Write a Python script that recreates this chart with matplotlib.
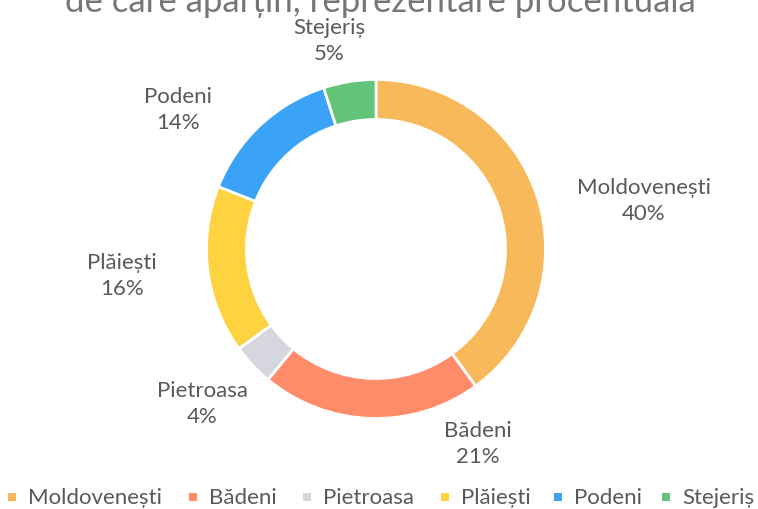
import matplotlib.pyplot as plt
from matplotlib.patches import Rectangle

# --- data ---
categories = ['Moldovenești', 'Bădeni', 'Pietroasa', 'Plăiești', 'Podeni', 'Stejeriș']
percents = [40, 21, 4, 16, 14, 5]
colors = ['#F7B95A', '#FF8B68', '#D5D6DE', '#FFD23F', '#3BA3F7', '#62C37A']
title = 'de care aparțin, reprezentare procentuală'

# label block centres in pixels (x, y from top) -- layout only
label_pos = [(644, 201), (478, 444), (202, 404), (122, 276), (178, 110), (329, 41)]
legend_x = [12, 193, 307, 445, 558, 666]

W, H = 758, 510
TEXT = '#595959'
plt.rcParams['font.family'] = ['Lato', 'DejaVu Sans']

fig = plt.figure(figsize=(W / 100, H / 100), dpi=100)
ax = fig.add_axes([0, 0, 1, 1])

ax.pie(percents, colors=colors, startangle=90, counterclock=False,
       center=(376, H - 250), radius=169.5,
       wedgeprops=dict(width=40, edgecolor='white', linewidth=2))
ax.set_xlim(0, W)
ax.set_ylim(0, H)
ax.set_aspect('equal')
ax.axis('off')

# title (cut at the top, as in the source)
ax.text(380, H - 12, title, ha='center', va='baseline', fontsize=25, color='#767676')

for (x, y), name, p in zip(label_pos, categories, percents):
    ax.text(x, H - y, f'{name}\n{p}%', ha='center', va='center', fontsize=16,
            color=TEXT, linespacing=1.35)

# legend
for x, name, c in zip(legend_x, categories, colors):
    ax.add_patch(Rectangle((x - 4, H - 502), 8, 8, color=c, lw=0))
    ax.text(x + 16, H - 498, name, ha='left', va='center', fontsize=16, color=TEXT)

fig.savefig('out.png', dpi=100)
